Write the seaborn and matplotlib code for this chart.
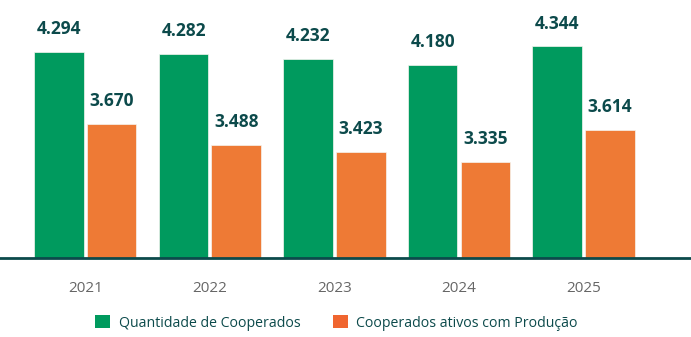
import matplotlib
matplotlib.use("Agg")
import matplotlib.pyplot as plt
import seaborn as sns
import pandas as pd
from matplotlib.patches import Patch

years = ["2021", "2022", "2023", "2024", "2025"]
series_names = ["Quantidade de Cooperados", "Cooperados ativos com Produção"]
cooperados = [4294, 4282, 4232, 4180, 4344]
ativos = [3670, 3488, 3423, 3335, 3614]

GREEN = "#009A5E"
ORANGE = "#EE7A35"
ORANGE_LEG = "#F0652F"
TEAL = "#0C4A4B"

df = pd.DataFrame({
    "ano": years * 2,
    "serie": [series_names[0]] * len(years) + [series_names[1]] * len(years),
    "valor": cooperados + ativos,
})

sns.set_theme(style="white")
plt.rcParams["font.family"] = ["Open Sans", "DejaVu Sans"]

fig = plt.figure(figsize=(6.91, 3.37), dpi=100)
ax = fig.add_axes([0.0, 0.233, 1.0, 0.767])

sns.barplot(data=df, x="ano", y="valor", hue="serie", order=years,
            hue_order=series_names, palette=[GREEN, ORANGE], saturation=1,
            width=0.846, gap=0.06, ax=ax, legend=False,
            edgecolor="#f5f5f0", linewidth=0.5, errorbar=None)

ax.set_ylim(2494, 4749)
ax.set_xlim(-0.686, 4.864)

for cont in ax.containers:
    labels = [f"{v:,.0f}".replace(",", ".") for v in cont.datavalues]
    ax.bar_label(cont, labels=labels, padding=10, fontsize=12.5,
                 fontweight="bold", color=TEAL)

for s in ["top", "right", "left"]:
    ax.spines[s].set_visible(False)
ax.spines["bottom"].set_color(TEAL)
ax.spines["bottom"].set_linewidth(2)
ax.set_yticks([])
ax.set_xlabel("")
ax.set_ylabel("")
ax.tick_params(axis="x", length=0, pad=16, labelsize=11, labelcolor="#666666")

handles = [Patch(facecolor=GREEN, edgecolor="none"),
           Patch(facecolor=ORANGE_LEG, edgecolor="none")]
fig.legend(handles, series_names, loc="center", bbox_to_anchor=(0.487, 0.042),
           ncol=2, frameon=False, handlelength=1.05, handleheight=1.05,
           handletextpad=0.6, columnspacing=2.3, fontsize=10.2,
           labelcolor=TEAL)

fig.savefig("out.png", dpi=100)
